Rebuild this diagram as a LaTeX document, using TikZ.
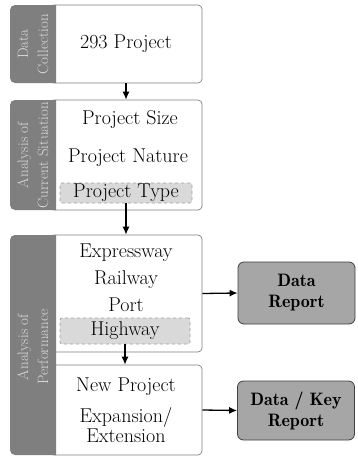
\documentclass[tikz,border=0pt]{standalone}
\usetikzlibrary{positioning,arrows.meta}
\definecolor{sidegray}{HTML}{7F7F7F}
\definecolor{sidetxt}{HTML}{D9D9D9}
\definecolor{tagfill}{HTML}{D9D9D9}
\definecolor{tagline}{HTML}{A0A0A0}
\definecolor{repfill}{HTML}{A6A6A6}
\definecolor{darkline}{HTML}{404040}

\begin{document}
\begin{tikzpicture}[x=1pt,y=1pt,>={Latex[length=8pt,width=7pt]},line width=1.3pt,
panel/.style = {draw=sidegray, line width=0.7pt, fill=white, rounded corners=4pt, minimum width=152pt, inner sep=0pt},
sidetext/.style = {rotate=90, text=sidetxt, align=center, font=\fontsize{15}{20}\selectfont},
tag/.style = {draw=tagline, dashed, line width=0.7pt, fill=tagfill, rounded corners=2pt, inner sep=0pt},
item/.style = {inner sep=0pt, align=center, font=\fontsize{20}{16}\selectfont},
report/.style = {draw=darkline, line width=0.8pt, fill=repfill, rounded corners=6pt, minimum width=117pt, align=center, font=\fontsize{18}{21}\fontseries{b}\selectfont},]
\useasboundingbox (0,0) rectangle (357,-459);
% white panels
\node (DC) at (126,-44)[panel, minimum height=78pt] {};
\node (CS) at (126,-155)[panel, minimum height=110pt] {};
\node (AP) at (126,-293.5)[panel, minimum height=117pt] {};
\node (NP) at (126,-410)[panel, minimum height=90pt] {};
% grey side bars
\begin{scope}
\clip (10,-5) rectangle (56,-83) (10,-100) rectangle (56,-210) (10,-235) rectangle (56,-455);
\fill[sidegray, rounded corners=5pt] (10,-5) rectangle (80,-83);
\fill[sidegray, rounded corners=5pt] (10,-100) rectangle (80,-210);
\fill[sidegray, rounded corners=5pt] (10,-235) rectangle (80,-455);
\end{scope}
\node (DCL) at (33,-44)[sidetext] {Data\\Collection};
\node (CSL) at (33,-155)[sidetext] {Analysis of\\Current Situation};
\node (APL) at (33,-347)[sidetext] {Analysis of\\Performance};
% contents
\node (P293) at (126,-44)[item] {293 Project};
\node (PS) at (130,-120)[item] {Project Size};
\node (PN) at (128,-158)[item] {Project Nature};
\node (PT) at (126,-193)[tag, minimum width=132pt, minimum height=20pt] {};
\node (PTT) at (126,-193)[item] {Project Type};
\node (EW) at (126,-253)[item] {Expressway};
\node (RW) at (126,-280)[item] {Railway};
\node (PO) at (126,-305)[item] {Port};
\node (HW) at (125,-331)[tag, minimum width=130pt, minimum height=26pt] {};
\node (HWT) at (125,-331)[item] {Highway};
\node (NEW) at (126,-387)[item] {New Project};
\node (EXP) at (126,-425)[item] {Expansion/\\Extension};
% reports
\node (DR) at (296.5,-293)[report, minimum height=62pt] {Data\\Report};
\node (DKR) at (296,-410.5)[report, minimum height=59pt] {Data / Key\\Report};
% arrows
\draw[->] (DC.south) -- (CS.north);
\draw[->] (PT.south) -- (AP.north);
\draw[->] (HW.south) -- (HW.south |- NP.north);
\draw[->] (AP.east) -- (DR.west);
\draw[->] (NP.east) -- (DKR.west);
\end{tikzpicture}
\end{document}
